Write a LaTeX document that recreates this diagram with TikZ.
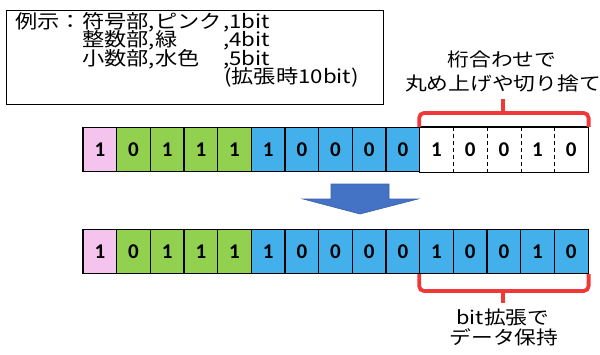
\documentclass[tikz,border=0pt]{standalone}
\usepackage{fontspec}
\setmainfont{Noto Sans CJK JP}
\newfontfamily\widefont[FakeStretch=1.17]{Noto Sans CJK JP}
\newfontfamily\digitfont{Carlito}
\definecolor{cpink}{HTML}{F4C4EE}
\definecolor{cgreen}{HTML}{92D050}
\definecolor{cblue}{HTML}{43B0EC}
\definecolor{carrow}{HTML}{4472C4}
\definecolor{cred}{HTML}{F03838}
\tikzset{
  cellbox/.style={rectangle, minimum width=33.67pt, minimum height=44pt, inner sep=0pt, line width=1.1pt, font=\digitfont\bfseries\fontsize{21}{21}\selectfont},
  boxtext/.style={anchor=west, inner sep=0pt, text height=0.75em, text depth=0.1em, font=\widefont\fontsize{19}{19}\selectfont},
  bigtext/.style={inner sep=0pt, text height=0.8em, text depth=0.1em, font=\widefont\fontsize{18.6}{20}\selectfont},
  bracket/.style={cred, line width=3.8pt, rounded corners=5pt},
}
\begin{document}
\begin{tikzpicture}[x=1pt,y=-1pt]
\useasboundingbox (0,0) rectangle (600,354);
% legend box
\node[draw, line width=1pt, minimum width=377pt, minimum height=94pt, anchor=north west, inner sep=0pt] (legend) at (6,10) {};
\node[boxtext] (ex) at (15,25) {例示：};
\node[boxtext] (l1) at (82,25) {符号部,ピンク};
\node[boxtext] (b1) at (223,25) {,1bit};
\node[boxtext] (l2) at (82,43.5) {整数部,緑};
\node[boxtext] (b2) at (223,43.5) {,4bit};
\node[boxtext] (l3) at (82,62) {小数部,水色};
\node[boxtext] (b3) at (223,62) {,5bit};
\node[boxtext] (b4) at (224,80.5) {(拡張時10bit)};
% row 1
\foreach \v [count=\i from 0] in {1,0,1,1,1,1,0,0,0,0} {
  \ifnum\i=0 \def\cc{cpink}\else\ifnum\i<5 \def\cc{cgreen}\else\def\cc{cblue}\fi\fi
  \node[cellbox, draw, fill=\cc] (r1c\i) at ({83+33.67*(\i+0.5)},149.5) {\v};
}
\foreach \v [count=\i from 10] in {1,0,0,1,0} {
  \node[cellbox] (r1c\i) at ({83+33.67*(\i+0.5)},149.5) {\v};
}
\draw[line width=1.1pt] (r1c10.north west) -- (r1c14.north east) -- (r1c14.south east) -- (r1c10.south west);
\foreach \i in {10,11,12,13} {
  \draw[line width=1pt, dash pattern=on 4pt off 3pt] (r1c\i.north east) -- (r1c\i.south east);
}
% row 2
\foreach \v [count=\i from 0] in {1,0,1,1,1,1,0,0,0,0,1,0,0,1,0} {
  \ifnum\i=0 \def\cc{cpink}\else\ifnum\i<5 \def\cc{cgreen}\else\def\cc{cblue}\fi\fi
  \node[cellbox, draw, fill=\cc] (r2c\i) at ({83+33.67*(\i+0.5)},251.5) {\v};
}
% arrow
\draw[fill=carrow, draw=carrow!85!black, line width=0.6pt] (331,184) -- (389,184) -- (389,199) -- (418,199) -- (360,214) -- (303,199) -- (331,199) -- cycle;
% top bracket
\coordinate (tb) at (503,99);
\draw[bracket] (r1c10.north west) -- ++(0,-14) -| (r1c14.north east);
\draw[cred, line width=3.8pt] (503,113) -- (tb);
\node[bigtext] (t1) at (502,63) {桁合わせで};
\node[bigtext] (t2) at (503,87) {丸め上げや切り捨て};
% bottom bracket
\coordinate (bb) at (503,303);
\draw[bracket] (r2c10.south west) -- ++(0,17) -| (r2c14.south east);
\draw[cred, line width=3.8pt] (503,290) -- (bb);
\node[bigtext] (u1) at (503,321) {bit拡張で};
\node[bigtext] (u2) at (504,341) {データ保持};
\end{tikzpicture}
\end{document}
